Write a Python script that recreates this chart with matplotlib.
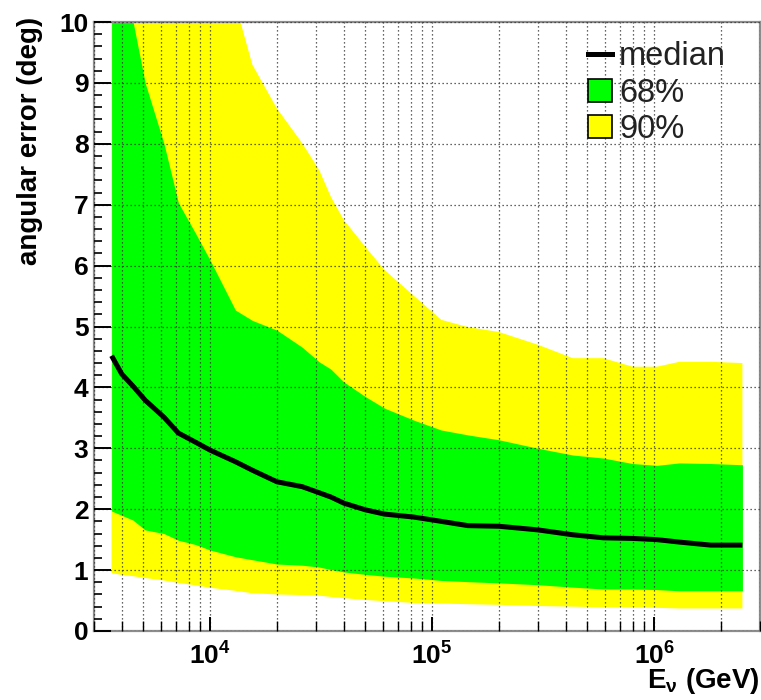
import matplotlib
matplotlib.use("Agg")
import matplotlib.pyplot as plt
import numpy as np
from matplotlib.ticker import LogLocator, MultipleLocator, FuncFormatter, NullFormatter
from matplotlib.lines import Line2D
from matplotlib.patches import Patch

plt.rcParams['font.family'] = ['Liberation Sans', 'DejaVu Sans']
plt.rcParams['mathtext.fontset'] = 'custom'
plt.rcParams['mathtext.rm'] = 'Liberation Sans:bold'
plt.rcParams['mathtext.bf'] = 'Liberation Sans:bold'
plt.rcParams['mathtext.it'] = 'Liberation Sans:bold'

# neutrino energy (GeV)
energy = np.array([3.6e3, 4.0e3, 4.5e3, 5.1e3, 6.2e3, 7.2e3, 8.6e3, 1.0e4, 1.3e4, 1.55e4,
                   2.0e4, 2.6e4, 3.1e4, 3.5e4, 4.0e4, 5.0e4, 6.1e4, 8.3e4, 1.1e5, 1.45e5,
                   2.0e5, 3.0e5, 4.3e5, 5.9e5, 8.0e5, 1.03e6, 1.3e6, 1.8e6, 2.5e6])

median = np.array([4.52, 4.22, 4.02, 3.79, 3.51, 3.25, 3.10, 2.97, 2.78, 2.64,
                   2.45, 2.37, 2.27, 2.20, 2.10, 1.99, 1.92, 1.87, 1.80, 1.73,
                   1.72, 1.66, 1.58, 1.53, 1.52, 1.50, 1.46, 1.41, 1.41])

p68_low = np.array([1.97, 1.90, 1.82, 1.66, 1.60, 1.49, 1.42, 1.33, 1.22, 1.17,
                    1.10, 1.08, 1.05, 1.01, 0.97, 0.93, 0.90, 0.87, 0.83, 0.81,
                    0.79, 0.76, 0.72, 0.69, 0.69, 0.68, 0.66, 0.66, 0.66])

p68_high = np.array([12.0, 11.0, 10.0, 9.0, 8.0, 7.03, 6.53, 6.09, 5.27, 5.10,
                     4.94, 4.66, 4.42, 4.30, 4.09, 3.85, 3.66, 3.46, 3.30, 3.22,
                     3.14, 3.00, 2.89, 2.84, 2.75, 2.72, 2.76, 2.75, 2.73])

p90_low = np.array([0.95, 0.92, 0.90, 0.87, 0.83, 0.79, 0.75, 0.71, 0.66, 0.62,
                    0.60, 0.59, 0.58, 0.56, 0.54, 0.51, 0.49, 0.46, 0.45, 0.44,
                    0.43, 0.41, 0.40, 0.39, 0.39, 0.38, 0.37, 0.37, 0.37])

p90_high = np.array([20.0, 19.0, 18.0, 17.0, 15.0, 14.0, 13.0, 12.0, 10.3, 9.3,
                     8.58, 8.01, 7.57, 7.13, 6.75, 6.31, 5.93, 5.50, 5.11, 4.99,
                     4.91, 4.70, 4.48, 4.48, 4.34, 4.34, 4.42, 4.42, 4.40])

fig = plt.figure(figsize=(7.61, 7.00), dpi=100)
ax = fig.add_axes([94/761, 1 - 631/700, (760 - 94)/761, (631 - 22)/700])

ax.fill_between(energy, p90_low, p90_high, color='#ffff00', linewidth=0, zorder=1)
ax.fill_between(energy, p68_low, p68_high, color='#00ff00', linewidth=0, zorder=1.2)
ax.plot(energy, median, color='black', lw=3.6, zorder=3, solid_capstyle='butt')

ax.set_xscale('log')
ax.set_xlim(3e3, 3e6)
ax.set_ylim(0, 10)

ax.xaxis.set_major_locator(LogLocator(base=10, numticks=10))
ax.xaxis.set_minor_locator(LogLocator(base=10, subs=np.arange(2, 10), numticks=20))
ax.xaxis.set_major_formatter(FuncFormatter(lambda v, p: r'$\mathbf{10^{%d}}$' % round(np.log10(v))))
ax.xaxis.set_minor_formatter(NullFormatter())
ax.yaxis.set_major_locator(MultipleLocator(1))
ax.yaxis.set_minor_locator(MultipleLocator(0.2))

ax.tick_params(axis='both', which='both', direction='in', color='black', top=False, right=False)
ax.tick_params(axis='y', which='major', length=12, width=1.4, pad=4, labelsize=19)
ax.tick_params(axis='y', which='minor', length=6, width=1.2)
ax.tick_params(axis='x', which='major', length=10, width=1.4, pad=8, labelsize=19)
ax.tick_params(axis='x', which='minor', length=7, width=1.0)
for lab in ax.get_yticklabels():
    lab.set_fontweight('bold')

ax.set_axisbelow(False)
grid_style = dict(color='#333333', linestyle=(0, (1, 2.2)), linewidth=0.9)
ax.grid(True, which='major', axis='both', **grid_style)
ax.grid(True, which='minor', axis='x', **grid_style)

for s in ax.spines.values():
    s.set_color('#8c8c8c')
    s.set_linewidth(1.6)

ax.set_ylabel('angular error (deg)', loc='top', fontsize=20, fontweight='bold')
ax.yaxis.set_label_coords(-0.077, 1.008)
ax.set_xlabel(r'E$_{\nu}$ (GeV)', loc='right', fontsize=20, fontweight='bold')
ax.xaxis.set_label_coords(0.999, -0.058)
ax.xaxis.label.set_verticalalignment('top')

handles = [Line2D([], [], color='black', lw=3.6),
           Patch(facecolor='#00ff00', edgecolor='black', linewidth=1.2),
           Patch(facecolor='#ffff00', edgecolor='black', linewidth=1.2)]
leg = ax.legend(handles, ['median', '68%', '90%'], loc='upper left',
                bbox_to_anchor=(0.741, 0.968), frameon=False, fontsize=23.5,
                handlelength=0.75, handleheight=0.72, handletextpad=0.22,
                labelspacing=0.16, borderpad=0, borderaxespad=0)
for t in leg.get_texts():
    t.set_color('#222222')

fig.savefig('out.png', dpi=100)
